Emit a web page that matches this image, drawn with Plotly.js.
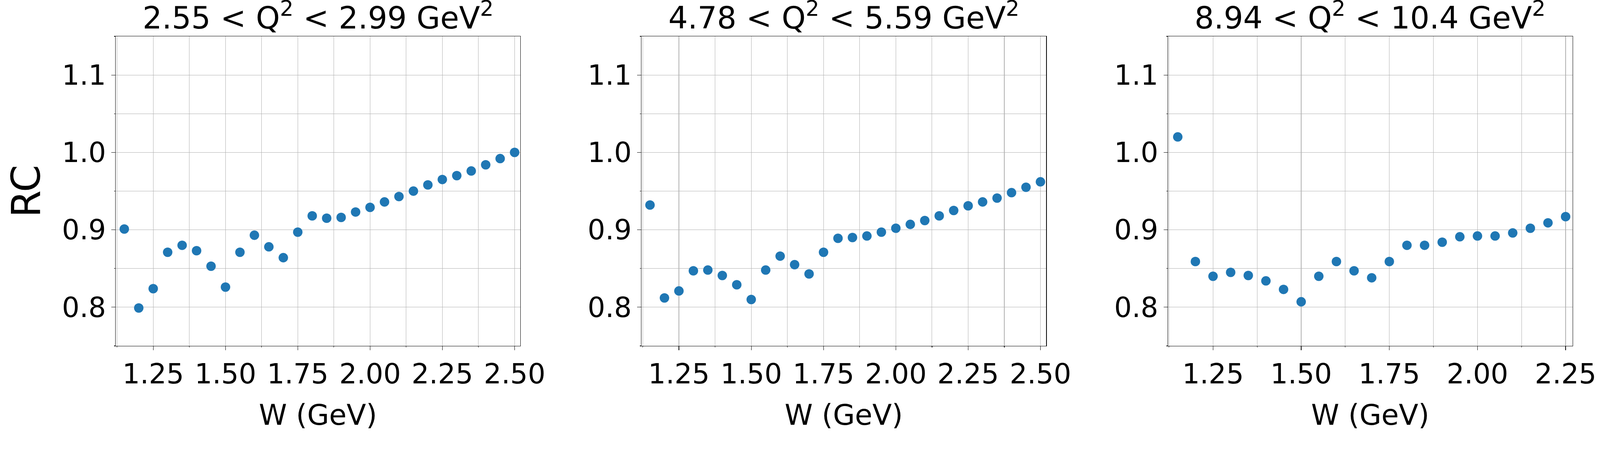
<!DOCTYPE html>
<html>
<head>
<meta charset="utf-8">
<script src="https://cdn.plot.ly/plotly-3.0.1.min.js"></script>
<style>
  html, body { margin: 0; padding: 0; background: white; overflow: hidden; }
</style>
</head>
<body>
<div id="plot"></div>
<script>
// W bin centres (GeV)
const wBins = [1.15, 1.20, 1.25, 1.30, 1.35, 1.40, 1.45, 1.50, 1.55, 1.60,
  1.65, 1.70, 1.75, 1.80, 1.85, 1.90, 1.95, 2.00, 2.05, 2.10,
  2.15, 2.20, 2.25, 2.30, 2.35, 2.40, 2.45, 2.50];
const wBinsHigh = [1.15, 1.20, 1.25, 1.30, 1.35, 1.40, 1.45, 1.50, 1.55, 1.60,
  1.65, 1.70, 1.75, 1.80, 1.85, 1.90, 1.95, 2.00, 2.05, 2.10,
  2.15, 2.20, 2.25];

// radiative correction per Q^2 bin
const rcLow = [0.901, 0.799, 0.824, 0.871, 0.880, 0.873, 0.853, 0.826, 0.871, 0.893,
  0.878, 0.864, 0.897, 0.918, 0.915, 0.916, 0.923, 0.929, 0.936, 0.943,
  0.950, 0.958, 0.965, 0.970, 0.976, 0.984, 0.992, 1.000];
const rcMid = [0.932, 0.812, 0.821, 0.847, 0.848, 0.841, 0.829, 0.810, 0.848, 0.866,
  0.855, 0.843, 0.871, 0.889, 0.890, 0.892, 0.897, 0.902, 0.907, 0.912,
  0.918, 0.925, 0.931, 0.936, 0.941, 0.948, 0.955, 0.962];
const rcHigh = [1.020, 0.859, 0.840, 0.845, 0.841, 0.834, 0.823, 0.807, 0.840, 0.859,
  0.847, 0.838, 0.859, 0.880, 0.880, 0.884, 0.891, 0.892, 0.892, 0.896,
  0.902, 0.909, 0.917];

const panelTitles = [
  "2.55 &lt; Q<sup>2</sup> &lt; 2.99 GeV<sup>2</sup>",
  "4.78 &lt; Q<sup>2</sup> &lt; 5.59 GeV<sup>2</sup>",
  "8.94 &lt; Q<sup>2</sup> &lt; 10.4 GeV<sup>2</sup>",
];

const blue = "#1f77b4";
const gridGray = "#b0b0b0";
const domains = [[0, 0.2778], [0.3608, 0.6387], [0.7222, 1]];
const xRanges = [[1.12, 2.52], [1.12, 2.52], [1.122, 2.27]];

// the figure is laid out for 4391 px; scale to whatever the window really is
const W0 = 4391;
const H0 = 1191;
let s = window.innerWidth / W0;
if (!(s > 0.3 && s < 3)) s = 1;
const px = (v) => v * s;

function makeTrace(x, y, n) {
  return {
    type: "scatter",
    mode: "markers",
    x: x,
    y: y,
    xaxis: n == 1 ? "x" : "x" + n,
    yaxis: n == 1 ? "y" : "y" + n,
    marker: { size: px(26), color: blue },
    hoverinfo: "skip",
  };
}

function xAxis(i) {
  return {
    domain: domains[i],
    anchor: i == 0 ? "y" : "y" + (i + 1),
    range: xRanges[i],
    dtick: 0.25,
    tick0: 0,
    tickformat: ".2f",
    ticks: "outside",
    ticklen: px(10),
    tickwidth: px(1.3),
    tickcolor: "black",
    ticklabelstandoff: px(37),
    showline: true,
    mirror: true,
    linecolor: "black",
    linewidth: px(1.3),
    showgrid: true,
    gridcolor: gridGray,
    gridwidth: px(1.2),
    zeroline: false,
    minor: {
      dtick: 0.125,
      ticks: "outside",
      ticklen: px(3),
      tickcolor: "black",
      showgrid: true,
      gridcolor: gridGray,
      gridwidth: px(1.2),
    },
    tickfont: { size: px(76) },
    title: { text: "W (GeV)", font: { size: px(78) }, standoff: px(42) },
  };
}

function yAxis(i) {
  const ax = {
    domain: [0, 1],
    anchor: i == 0 ? "x" : "x" + (i + 1),
    range: [0.75, 1.15],
    dtick: 0.1,
    tick0: 0,
    tickformat: ".1f",
    ticks: "outside",
    ticklen: px(10),
    tickwidth: px(1.3),
    tickcolor: "black",
    ticklabelstandoff: px(44),
    showline: true,
    mirror: true,
    linecolor: "black",
    linewidth: px(1.3),
    showgrid: true,
    gridcolor: gridGray,
    gridwidth: px(1.2),
    zeroline: false,
    minor: {
      dtick: 0.05,
      ticks: "outside",
      ticklen: px(3),
      tickcolor: "black",
      showgrid: true,
      gridcolor: gridGray,
      gridwidth: px(1.2),
    },
    tickfont: { size: px(76) },
  };
  if (i == 0) {
    ax.title = { text: "RC", font: { size: px(108) }, standoff: px(24) };
  }
  return ax;
}

const data = [
  makeTrace(wBins, rcLow, 1),
  makeTrace(wBins, rcMid, 2),
  makeTrace(wBinsHigh, rcHigh, 3),
];

const annotations = panelTitles.map((t, i) => ({
  text: t,
  xref: "paper",
  yref: "paper",
  x: (domains[i][0] + domains[i][1]) / 2,
  y: 1,
  xanchor: "center",
  yanchor: "bottom",
  showarrow: false,
  font: { size: px(84) },
}));

const layout = {
  width: px(W0),
  height: px(H0),
  margin: { l: px(317), r: px(75), t: px(100), b: px(241), pad: 0 },
  paper_bgcolor: "white",
  plot_bgcolor: "white",
  font: { family: "DejaVu Sans", size: px(76), color: "black" },
  showlegend: false,
  xaxis: xAxis(0),
  xaxis2: xAxis(1),
  xaxis3: xAxis(2),
  yaxis: yAxis(0),
  yaxis2: yAxis(1),
  yaxis3: yAxis(2),
  annotations: annotations,
};

Plotly.newPlot("plot", data, layout, { displayModeBar: false, staticPlot: true });
</script>
</body>
</html>
